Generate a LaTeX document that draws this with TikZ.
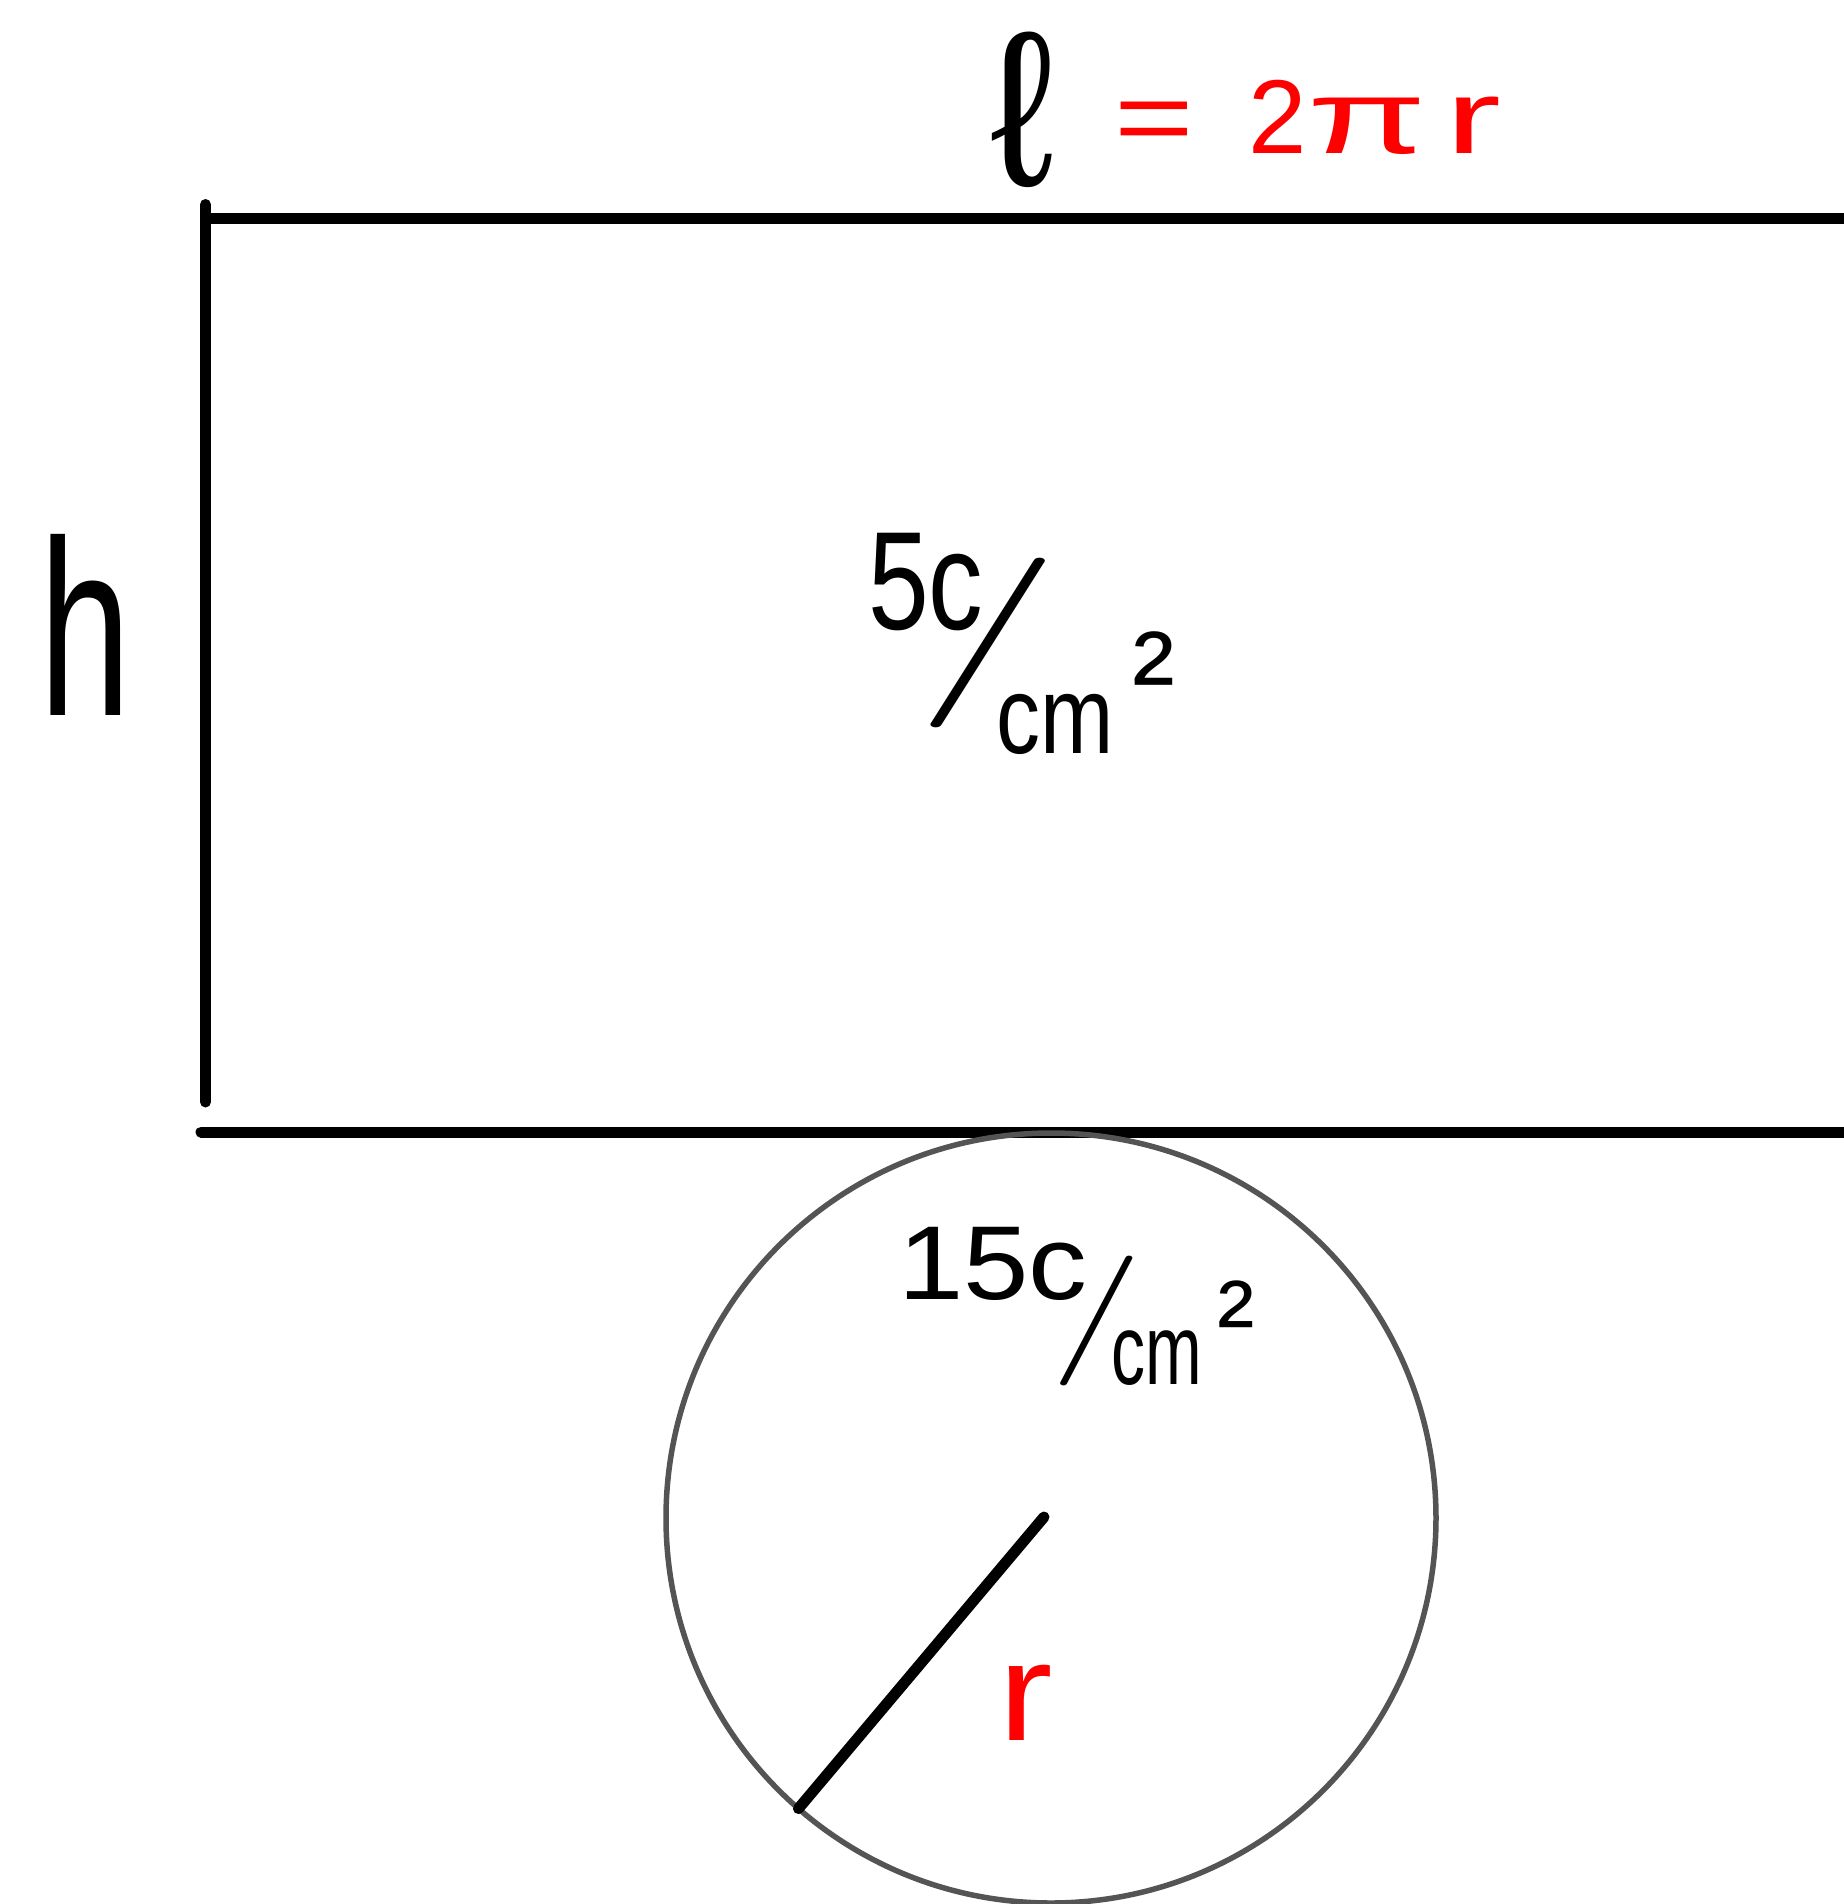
\documentclass[tikz,border=0pt]{standalone}
\usepackage{fontspec}
\setmainfont{Liberation Sans}
\newfontfamily\lmfont{Latin Modern Roman}
\usepackage{graphicx}
\newcommand{\myfs}[1]{\fontsize{#1}{#1}\selectfont}
\begin{document}
\begin{tikzpicture}[x=1pt,y=-1pt,
  stroke/.style={line width=11pt,line cap=round,black},
  hand/.style={inner sep=0pt,outer sep=0pt,anchor=base west},
  disc/.style={circle,draw=black!67,line width=5.5pt,inner sep=0pt,outer sep=0pt,minimum size=770pt}]
\fill[white] (0,0) rectangle (1844,1904);
\useasboundingbox (0,0) rectangle (1844,1904);
% frame lines
\coordinate (tl) at (208,218.5);
\coordinate (tr) at (1850,218.5);
\coordinate (vt) at (205.5,204.5);
\coordinate (vb) at (205.5,1102);
\coordinate (bl) at (201,1132);
\coordinate (br) at (1850,1132);
\draw[stroke] (tl) -- (tr);
\draw[stroke] (vt) -- (vb);
\draw[stroke] (bl) -- (br);
% circle
\node[disc] (circ) at (1051,1518) {};
\coordinate (rs) at (1044,1517);
\draw[stroke] (rs) -- (circ.229);
% labels
\node[hand,anchor=base] (ell) at (1022,185) {\myfs{220}\scalebox{0.9}[1]{ℓ}};
\node[hand,red] (eq) at (1114,153) {\myfs{105}\scalebox{1.3}[1]{=} \kern26pt 2\scalebox{1.65}[1]{π}\kern19pt\scalebox{1.6}[1]{r}};
\node[hand,anchor=base] (h) at (85,715) {\myfs{250}\scalebox{0.66}[1]{h}};
\node[hand] (p1) at (868,629) {\myfs{140}\scalebox{0.78}[1]{5c}\kern-67pt\raisebox{-56pt}{\lmfont\myfs{170}\scalebox{1.84}[1]{/}}\kern-63pt\raisebox{-124pt}{\myfs{110}\scalebox{0.8}[1]{cm}}\kern18pt\raisebox{-91pt}{\myfs{128}²}};
\node[hand] (p2) at (898,1299) {\myfs{105}\scalebox{1.12}[1]{15c}\kern-36pt\raisebox{-54.5pt}{\lmfont\myfs{130}\scalebox{1.52}[1]{/}}\kern-31pt\raisebox{-85pt}{\myfs{100}\scalebox{0.68}[1]{cm}}\kern16pt\raisebox{-59pt}{\myfs{112}²}};
\node[hand,anchor=base,red] (rlab) at (1026,1740) {\myfs{140}\scalebox{1.17}[1]{r}};
\end{tikzpicture}
\end{document}
